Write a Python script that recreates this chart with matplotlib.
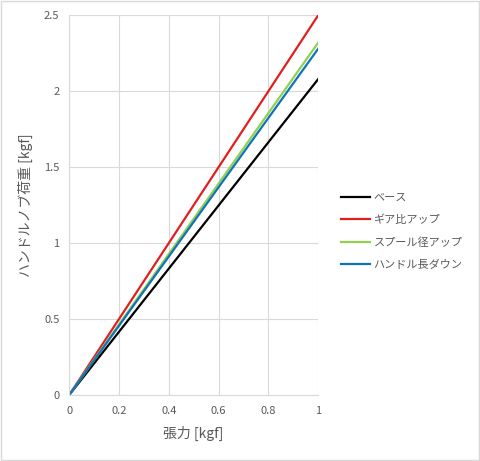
import numpy as np
import matplotlib.pyplot as plt

plt.rcParams['font.family'] = ['Noto Sans CJK JP', 'DejaVu Sans']

# 張力と荷重 (直線: 原点と x=1 の値)
tension = [0, 1]
names = ['ベース', 'ギア比アップ', 'スプール径アップ', 'ハンドル長ダウン']
loads = {
    'ベース': [0, 2.08],
    'ギア比アップ': [0, 2.50],
    'スプール径アップ': [0, 2.32],
    'ハンドル長ダウン': [0, 2.28],
}
colors = ['#000000', '#E0201E', '#92D050', '#0E74B8']
gray = '#595959'

fig = plt.figure(figsize=(4.8, 4.61), dpi=100)
ax = fig.add_axes([0.144, 0.143, 0.519, 0.824])

for n, c in zip(names, colors):
    ax.plot(tension, loads[n], color=c, lw=1.6, label=n)

ax.set_xlim(0, 1)
ax.set_ylim(0, 2.5)
ax.set_xticks(np.arange(0, 1.01, 0.2))
ax.set_xticklabels(['0', '0.2', '0.4', '0.6', '0.8', '1'])
ax.set_yticks(np.arange(0, 2.51, 0.5))
ax.set_yticklabels(['0', '0.5', '1', '1.5', '2', '2.5'])
ax.grid(color='#D9D9D9', lw=0.8)
ax.set_axisbelow(True)
for s in ['top', 'right']:
    ax.spines[s].set_visible(False)
for s in ['left', 'bottom']:
    ax.spines[s].set_color('#D9D9D9')
ax.tick_params(axis='x', length=0, colors=gray, labelsize=8, pad=8)
ax.tick_params(axis='y', length=0, colors=gray, labelsize=8, pad=7)
ax.set_xlabel('張力 [kgf]', color=gray, fontsize=10, labelpad=7)
ax.set_ylabel('ハンドルノブ荷重 [kgf]', color=gray, fontsize=10, labelpad=8)

leg = fig.legend(loc='center left', bbox_to_anchor=(0.69, 0.498), frameon=False,
                 fontsize=8, handlelength=2.6, labelspacing=1.1, handletextpad=0.3)
for t in leg.get_texts():
    t.set_color(gray)

fig.patches.append(plt.Rectangle((0.002, 0.002), 0.996, 0.996, transform=fig.transFigure,
                                 fill=False, edgecolor='#D9D9D9', lw=1))
fig.savefig('out.png', dpi=100)
